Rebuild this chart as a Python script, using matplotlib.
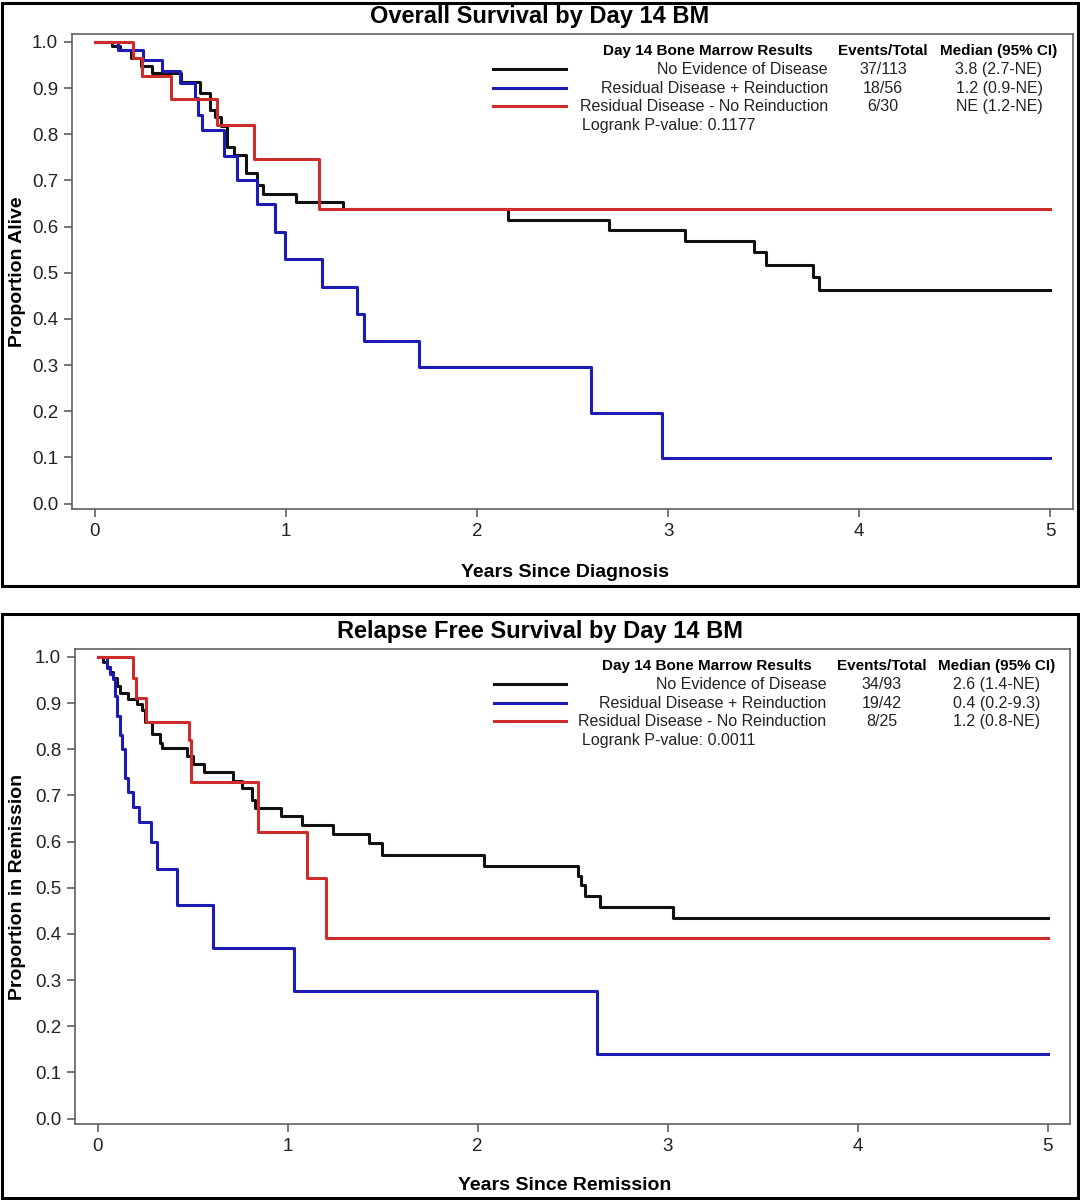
"""Overall survival and relapse-free survival by Day 14 bone marrow result."""
import matplotlib
matplotlib.use('Agg')
import matplotlib.pyplot as plt
from matplotlib.patches import Rectangle

plt.rcParams['font.family'] = ['Liberation Sans', 'DejaVu Sans']

GROUPS = ['No Evidence of Disease', 'Residual Disease + Reinduction',
          'Residual Disease - No Reinduction']
COLORS = ['#111111', '#1c1cb4', '#cc2c2a']

# --- Overall survival (years since diagnosis) ---
os_ned_t = [0, 0.09, 0.13, 0.19, 0.24, 0.30, 0.45, 0.55, 0.60, 0.63, 0.66, 0.69,
            0.73, 0.79, 0.85, 0.88, 1.05, 1.30, 2.16, 2.69, 3.09, 3.45, 3.51,
            3.76, 3.79, 5.0]
os_ned_s = [1.0, 0.991, 0.982, 0.965, 0.947, 0.932, 0.914, 0.889, 0.853, 0.838,
            0.817, 0.773, 0.755, 0.716, 0.690, 0.671, 0.654, 0.638, 0.615, 0.593,
            0.568, 0.544, 0.517, 0.491, 0.462, 0.462]
os_rd_t = [0, 0.12, 0.254, 0.35, 0.446, 0.525, 0.54, 0.56, 0.677, 0.743, 0.848,
           0.941, 0.997, 1.19, 1.373, 1.408, 1.696, 2.597, 2.97, 5.0]
os_rd_s = [1.0, 0.982, 0.961, 0.938, 0.912, 0.878, 0.842, 0.81, 0.752, 0.701,
           0.649, 0.589, 0.530, 0.470, 0.411, 0.353, 0.295, 0.197, 0.098, 0.098]
os_rn_t = [0, 0.198, 0.245, 0.40, 0.64, 0.834, 1.175, 5.0]
os_rn_s = [1.0, 0.965, 0.927, 0.877, 0.819, 0.747, 0.638, 0.638]
os_events = ['37/113', '18/56', '6/30']
os_median = ['3.8 (2.7-NE)', '1.2 (0.9-NE)', 'NE (1.2-NE)']
os_pvalue = '0.1177'

# --- Relapse free survival (years since remission) ---
rfs_ned_t = [0, 0.03, 0.047, 0.065, 0.082, 0.10, 0.117, 0.161, 0.205, 0.231,
             0.249, 0.284, 0.328, 0.337, 0.468, 0.503, 0.561, 0.713, 0.757, 0.81,
             0.827, 0.964, 1.073, 1.239, 1.427, 1.497, 2.033, 2.527, 2.545, 2.562,
             2.641, 3.03, 5.0]
rfs_ned_s = [1.0, 0.99, 0.979, 0.968, 0.954, 0.936, 0.921, 0.909, 0.897, 0.885,
             0.86, 0.832, 0.814, 0.803, 0.785, 0.769, 0.75, 0.731, 0.716, 0.691,
             0.673, 0.655, 0.635, 0.617, 0.596, 0.571, 0.547, 0.525, 0.505, 0.482,
             0.459, 0.434, 0.434]
rfs_rd_t = [0, 0.047, 0.065, 0.082, 0.091, 0.10, 0.117, 0.126, 0.143, 0.161,
            0.187, 0.215, 0.28, 0.31, 0.415, 0.605, 1.034, 2.63, 5.0]
rfs_rd_s = [1.0, 0.976, 0.964, 0.952, 0.915, 0.872, 0.83, 0.801, 0.737, 0.708,
            0.675, 0.643, 0.60, 0.54, 0.463, 0.37, 0.277, 0.139, 0.139]
rfs_rn_t = [0, 0.188, 0.20, 0.252, 0.48, 0.49, 0.845, 1.10, 1.204, 5.0]
rfs_rn_s = [1.0, 0.955, 0.91, 0.86, 0.82, 0.73, 0.621, 0.52, 0.392, 0.392]
rfs_events = ['34/93', '19/42', '8/25']
rfs_median = ['2.6 (1.4-NE)', '0.4 (0.2-9.3)', '1.2 (0.8-NE)']
rfs_pvalue = '0.0011'

x_ticks = [0, 1, 2, 3, 4, 5]
y_ticks = [0.0, 0.1, 0.2, 0.3, 0.4, 0.5, 0.6, 0.7, 0.8, 0.9, 1.0]

SPINE = '#606060'


def draw_panel(fig, rect, curves, events, medians, pvalue, title, xlabel, ylabel,
               title_y, xlabel_y, box):
    # outer frame of the panel
    fig.patches.append(Rectangle((box[0], box[1]), box[2], box[3],
                                 transform=fig.transFigure, fill=False,
                                 edgecolor='black', linewidth=2.2))
    ax = fig.add_axes(rect)
    for (t, s), c in zip(curves, COLORS):
        ax.step(t, s, where='post', color=c, linewidth=2.2)
    ax.set_xlim(-0.12, 5.12)
    ax.set_ylim(-0.012, 1.017)
    ax.set_xticks(x_ticks)
    ax.set_yticks(y_ticks)
    ax.set_yticklabels([f'{v:.1f}' for v in y_ticks])
    ax.tick_params(direction='out', length=6, width=1.2, color=SPINE,
                   labelsize=13.5, labelcolor='#222222', pad=4)
    for sp in ax.spines.values():
        sp.set_color(SPINE)
        sp.set_linewidth(1.2)

    # legend table
    tx = ax.transAxes
    ax.text(0.740, 0.964, 'Day 14 Bone Marrow Results', transform=tx, ha='right',
            va='center', fontsize=11, fontweight='bold')
    ax.text(0.810, 0.964, 'Events/Total', transform=tx, ha='center',
            va='center', fontsize=11, fontweight='bold')
    ax.text(0.926, 0.964, 'Median (95% CI)', transform=tx, ha='center',
            va='center', fontsize=11, fontweight='bold')
    rows_y = [0.926, 0.886, 0.848]
    for y, c, g, e, m in zip(rows_y, COLORS, GROUPS, events, medians):
        ax.plot([0.421, 0.493], [y, y], transform=tx, color=c, linewidth=2.2,
                clip_on=False)
        ax.text(0.755, y, g, transform=tx, ha='right', va='center',
                fontsize=11.5, color='#222222')
        ax.text(0.810, y, e, transform=tx, ha='center', va='center',
                fontsize=11.5, color='#222222')
        ax.text(0.926, y, m, transform=tx, ha='center', va='center',
                fontsize=11.5, color='#222222')
    ax.text(0.509, 0.808, f'Logrank P-value: {pvalue}', transform=tx,
            ha='left', va='center', fontsize=11.5, color='#222222')

    fig.text(0.5, title_y, title, ha='center', va='center', fontsize=17,
             fontweight='bold')
    fig.text(rect[0] + rect[2] / 2 - 0.007, xlabel_y, xlabel, ha='center',
             va='center', fontsize=14, fontweight='bold')
    fig.text(0.016, rect[1] + rect[3] / 2, ylabel, ha='center', va='center',
             rotation=90, fontsize=14, fontweight='bold')
    return ax


fig = plt.figure(figsize=(10.8, 12), dpi=100)

draw_panel(fig, [0.0667, 0.5758, 0.9269, 0.3958],
           [(os_ned_t, os_ned_s), (os_rd_t, os_rd_s), (os_rn_t, os_rn_s)],
           os_events, os_median, os_pvalue,
           'Overall Survival by Day 14 BM', 'Years Since Diagnosis',
           'Proportion Alive', 0.986, 0.523,
           (0.002, 1 - 586 / 1200, 0.996, 583 / 1200))

draw_panel(fig, [0.0694, 0.0633, 0.9218, 0.3958],
           [(rfs_ned_t, rfs_ned_s), (rfs_rd_t, rfs_rd_s), (rfs_rn_t, rfs_rn_s)],
           rfs_events, rfs_median, rfs_pvalue,
           'Relapse Free Survival by Day 14 BM', 'Years Since Remission',
           'Proportion in Remission', 1 - 632 / 1200, 1 - 1185 / 1200,
           (0.002, 1 - 1198 / 1200, 0.996, 584 / 1200))

fig.savefig('out.png', dpi=100, facecolor='white')
